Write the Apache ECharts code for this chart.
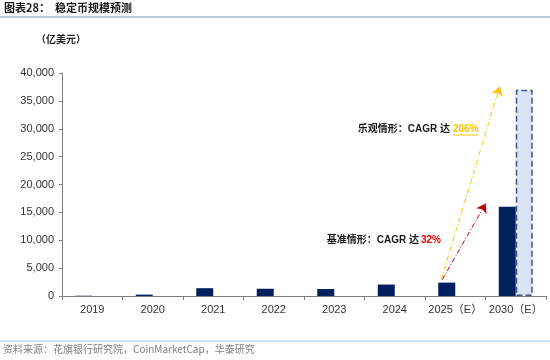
<!DOCTYPE html>
<html><head><meta charset="utf-8">
<script src="https://cdn.jsdelivr.net/npm/echarts@6/dist/echarts.min.js"></script>
<style>html,body{margin:0;padding:0;background:#fff}#c{width:550px;height:360px}</style>
</head><body><div id="c"></div>
<script>
const categories = ['2019','2020','2021','2022','2023','2024','2025（E）','2030（E）'];
const baseValues = [50, 250, 1400, 1300, 1250, 2050, 2400, 16000];
const optimisticValues = [null, null, null, null, null, null, null, 37000];
const yTicks = {min: 0, max: 40000, interval: 5000};
// arrow anchors: [category index, value]
const arrowStart = [6, 2400];
const arrowEndOptimistic = [7, 37600];
const arrowEndBase = [7, 16600];

const FONT = '"Liberation Sans", Arial, "Noto Sans CJK SC", sans-serif';
const chart = echarts.init(document.getElementById('c'));
const option = {
  animation: false,
  grid: {left: 62, right: 4, top: 73, bottom: 64},
  xAxis: {
    type: 'category', data: categories,
    axisLine: {lineStyle: {color: '#808080', width: 1}},
    axisTick: {show: true, length: 4, lineStyle: {color: '#808080'}},
    axisLabel: {color: '#333', fontSize: 11, fontFamily: FONT, margin: 8, interval: 0}
  },
  yAxis: {
    type: 'value', min: yTicks.min, max: yTicks.max, interval: yTicks.interval,
    axisLine: {show: true, lineStyle: {color: '#808080', width: 1}},
    axisTick: {show: true, length: 3, lineStyle: {color: '#808080'}},
    splitLine: {show: false},
    axisLabel: {color: '#333', fontSize: 11, fontFamily: FONT, margin: 8,
      formatter: v => v.toLocaleString('en-US')}
  },
  series: [
    {type: 'bar', name: 'base', data: baseValues, barWidth: 17, barGap: '0%',
     itemStyle: {color: '#002060'}},
    {type: 'bar', name: 'opt', data: optimisticValues, barWidth: 17,
     itemStyle: {color: '#DAE3F3', borderColor: '#3B5584', borderWidth: 1.5, borderType: 'dashed'}}
  ],
  graphic: [
    {type: 'text', left: 4, top: 2, style: {text: '图表28：  稳定币规模预测', font: 'bold 11px "Noto Sans CJK SC", sans-serif', fill: '#1a1a1a'}},
    {type: 'line', shape: {x1: 0, y1: 17, x2: 550, y2: 17}, style: {stroke: '#A7B9D2', lineWidth: 1.5}},
    {type: 'text', left: 36, top: 34, style: {text: '（亿美元）', font: 'bold 10px "Noto Sans CJK SC", sans-serif', fill: '#222'}},
    {type: 'line', shape: {x1: 0, y1: 341, x2: 550, y2: 341}, style: {stroke: '#9DC3E6', lineWidth: 1}},
    {type: 'text', left: 3, top: 344, style: {text: '资料来源：花旗银行研究院，CoinMarketCap，华泰研究', font: '10px "Noto Sans CJK SC", "Liberation Sans", sans-serif', fill: '#808080'}},
    // optimistic annotation
    {type: 'text', x: 450, y: 129, style: {text: '乐观情形：CAGR 达', font: 'bold 10px "Liberation Sans", "Noto Sans CJK SC", sans-serif', fill: '#1a1a1a', align: 'right', verticalAlign: 'middle'}},
    {type: 'text', x: 453, y: 129, style: {text: '206%', font: 'bold 10px "Liberation Sans", sans-serif', fill: '#FFC000', align: 'left', verticalAlign: 'middle'}},
    {type: 'line', shape: {x1: 453, y1: 135, x2: 478, y2: 135}, style: {stroke: '#FFC000', lineWidth: 1}},
    // base annotation
    {type: 'text', x: 419, y: 240, style: {text: '基准情形：CAGR 达', font: 'bold 10px "Liberation Sans", "Noto Sans CJK SC", sans-serif', fill: '#1a1a1a', align: 'right', verticalAlign: 'middle'}},
    {type: 'text', x: 421, y: 240, style: {text: '32%', font: 'bold 10px "Liberation Sans", sans-serif', fill: '#E00000', align: 'left', verticalAlign: 'middle'}}
  ]
};
chart.setOption(option);

const toPx = p => chart.convertToPixel({xAxisIndex: 0, yAxisIndex: 0}, p);
const s = toPx(arrowStart), eo = toPx(arrowEndOptimistic), eb = toPx(arrowEndBase);
const start = [s[0] - 14, s[1] - 3];
chart.setOption({
  series: [{
    markLine: {
      silent: true, symbol: ['none', 'arrow'], symbolSize: 9, label: {show: false},
      data: [
        [{x: start[0], y: start[1]}, {x: eo[0] - 16, y: eo[1], lineStyle: {color: '#FFC000'}}],
        [{x: start[0] + 1, y: start[1]}, {x: eb[0] - 30, y: eb[1], lineStyle: {color: '#C00000'}}]
      ],
      lineStyle: {type: [5, 2, 1, 2], width: 1}
    }
  }]
});
</script></body></html>
